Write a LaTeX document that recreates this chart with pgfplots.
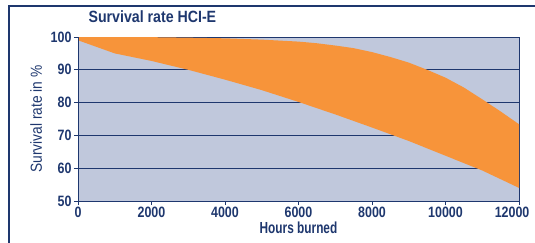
\documentclass[border=0pt]{standalone}
\usepackage{fontspec}
\setmainfont{Liberation Sans}[FakeStretch=0.83]
\newfontfamily\titlefont{Liberation Sans}[FakeStretch=0.87]
\newfontfamily\xlabfont{Liberation Sans}[FakeStretch=0.74]
\newfontfamily\ylabfont{Liberation Sans}[FakeStretch=0.86]
\usepackage{pgfplots}
\pgfplotsset{compat=1.18}
\definecolor{navy}{RGB}{30,55,110}
\definecolor{bgc}{RGB}{192,200,220}
\definecolor{orng}{RGB}{247,148,58}
\begin{document}
\begin{tikzpicture}
\useasboundingbox (0pt,-243pt) rectangle (535pt,0pt);
\draw[navy, line width=1.4pt] (8pt,-6pt) -- (535pt,-6pt);
\draw[navy, line width=1.4pt] (9pt,-6pt) -- (9pt,-243pt);
\begin{axis}[
  at={(78pt,-201pt)}, anchor=south west,
  scale only axis, width=441pt, height=164pt,
  xmin=0, xmax=12000, ymin=50, ymax=100,
  xtick={0,2000,...,12000}, ytick={50,60,...,100},
  xticklabels={0,2000,4000,6000,8000,10000,12000\hphantom{00}},
  scaled x ticks=false,
  /pgf/number format/assume math mode=true,
  ymajorgrids, major grid style={navy, line width=0.8pt},
  axis line style={navy, line width=0.9pt},
  tick style={navy, line width=0.8pt},
  major tick length=4pt, tick align=outside,
  xtick pos=bottom, ytick pos=left,
  axis background/.style={fill=bgc},
  tick label style={font=\fontsize{15}{17}\selectfont\bfseries, text=navy},
  xticklabel style={yshift=1.5pt},
  yticklabel style={xshift=1pt},
  title={Survival rate HCI-E},
  title style={font=\titlefont\fontsize{16.3}{18}\selectfont\bfseries, text=navy, at={(axis description cs:0.0159,1.053)}, anchor=base west},
  xlabel={Hours burned},
  xlabel style={font=\xlabfont\fontsize{16}{18}\selectfont\bfseries, text=navy, at={(axis description cs:0.5,-0.162)}, anchor=center},
  ylabel={Survival rate in \%},
  ylabel style={font=\ylabfont\fontsize{16}{18}\selectfont, text=navy, at={(axis description cs:-0.095,0.5)}, anchor=center},
]
\addplot[fill=orng, draw=none] coordinates {
  (0,100) (1000,100) (2000,99.95) (3000,99.8) (4000,99.6) (5000,99.2)
  (6000,98.6) (6500,98.1) (7000,97.4) (7500,96.6) (8000,95.4) (8500,93.9)
  (9000,92.2) (9500,90.0) (10000,87.6) (10500,84.6) (11000,81.0)
  (11500,77.3) (12000,73.4)
  (12000,54.0) (11000,59.3) (10000,63.8) (9000,68.3) (8000,72.4)
  (7000,76.4) (6000,80.2) (5000,83.8) (4000,87.0) (3000,90.0)
  (2000,92.7) (1000,95.0) (0,99.0)
} -- cycle;
\addplot[navy, line width=0.9pt] coordinates {(12000,50) (12000,100)};
\addplot[navy, line width=0.9pt] coordinates {(0,50) (0,100)};
\end{axis}
\end{tikzpicture}
\end{document}
